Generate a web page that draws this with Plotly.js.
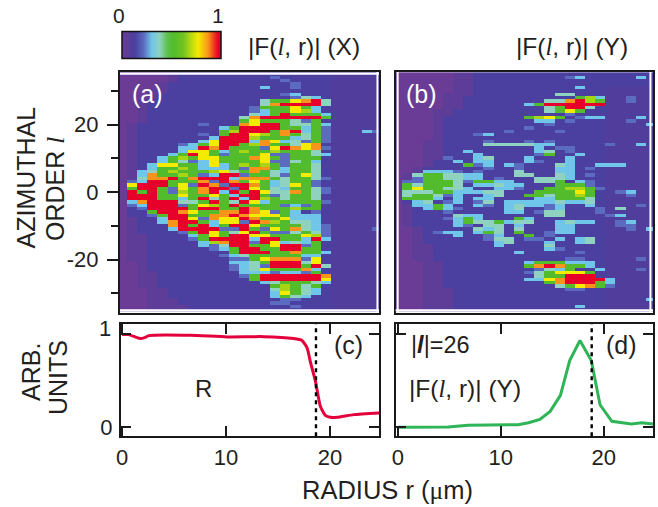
<!DOCTYPE html>
<html><head><meta charset="utf-8">
<script src="https://cdn.plot.ly/plotly-3.0.1.min.js"></script>
<style>html,body{margin:0;padding:0;background:#fff}#c{width:658px;height:507px}.hm image{filter:blur(0.5px)}</style>
</head><body><div id="c"></div>
<script>
// each row: azimuthal order l from +35 down to -35; each character: colour-class
const rowsX = [
"00000 .1111 11111 11111 1",
"00000 .1111 11111 21111 1",
"00000 .1111 11111 12111 1",
"0000. 11111 11111 11211 1",
"0000. 11111 11113 11211 1",
"000.. 11111 11111 11111 1",
"000.1 11111 11111 12311 1",
"000.1 11111 11111 11243 1",
"00.11 11111 11114 55789 4",
"00.11 11111 11114 89999 4",
"00.11 11111 11125 55753 1",
"00.11 11111 11123 55763 1",
"00.11 11111 11143 59555 3",
"00.11 11111 11489 99999 5",
"00.11 11111 11575 55425 1",
"0.111 11121 11879 95445 3",
"0.111 11111 35999 95535 2",
"0.111 11111 56999 58935 2...3 2",
"0.111 11121 59976 58545 2",
"0.111 11113 99965 55345 2",
"0.111 11137 99938 73425 2",
"0.111 12357 99568 55478 1",
"0.111 13398 95552 79878 2",
"0.111 13775 35655 65554 1",
"0.111 35975 25557 22554 3",
"0.113 56577 55587 52555 1",
"0.113 54237 55557 22453 1",
"0.137 75537 35656 52554 1",
"0.135 56533 35288 53554 1",
"0.345 65556 74585 43554 1",
"0.385 56523 99255 42574 1",
"0.488 95899 93888 54554 2",
"02399 55582 98575 34552 1",
"07999 57298 29985 34752 1",
"05995 27589 92975 43554 2",
"09595 26589 39597 44854 2",
"09995 57557 53995 24554 1",
"09995 53594 59396 54554 1",
"03899 94459 54973 55555 2",
"02399 92576 59555 52325 1",
"01299 99599 55985 55655 1",
"01159 98755 88987 25312 1",
"01125 99558 89877 75333 1",
"0.113 99728 77985 57333 1",
"0.113 89953 77298 65443 1",
"0.111 89593 59975 55543 2",
"0.111 39999 22952 75843 2....2",
"0.111 12597 54795 22454 2",
"0..11 11357 59977 55576 2",
"0..11 11259 99939 95539 3",
"0..11 11136 89929 73435 1",
"0..11 11132 49955 79925 1",
"0..11 11112 35995 59955 1",
"0..11 11111 15999 55855 3",
"0..11 11111 23455 55533 1",
"0..11 11111 12257 88827 1",
"00.11 11111 13345 99947 1",
"00.11 11111 12342 99959 4",
"00.11 11111 12347 55583 1",
"00..1 11111 11333 23325 1",
"00..1 11111 11259 99999 8",
"00..1 11111 11159 99999 7",
"00..1 11111 11113 45554 3",
"00..1 11111 11111 56545 1",
"000.. 11111 11111 46543 1",
"000.. 11111 11111 37543 1",
"000.. 11111 11111 35431 1",
"000.. .1111 11111 12211 1",
"000.. .1111 11111 22111 1",
"000.. ..111 11111 11211 1",
"000.. ..111 11111 11111 1"
];
const rowsY = [
"00000 0..11 11111 11111 11111 1",
"00000 0..11 11111 11231 11113 1",
"00000 0..11 11111 11111 11111 1",
"00000 0..11 11111 11111 11111 1",
"00000 0..11 11111 11131 1",
"00000 0..11 11111 11111 1",
"00000 ...11 11111 14411 1",
"00000 ..111 11111 11156 3..2.",
"00000 ..111 11111 44896 5..2.",
"00000 ..111 11135 99999 9",
"00000 ..111 11111 45994 1",
"0000. .1111 11111 45751 1",
"0000. .1111 11111 11211 1",
"0000. 11111 11156 75123 3...3",
"0000. 11111 11113 31211 1..2.",
"0000. 11111 11111 21111 1....3",
"0000. 11111 11121 11111 1",
"0000. 11111 12111 12111 1",
"0000. 11123 11111 11111 1",
"0000. 11111 11111 11111 1",
"000.. 11112 11121 21111 1",
"000.. 11114 44443 31111 12..3",
"000.. 11111 11113 12211 1",
"000.. 11311 11113 41211 1",
"000.. 11131 11112 51131 1",
"000.. 21134 11131 11311 1",
"000.1 13133 11132 11311 1",
"000.1 11523 13211 14311 333..",
"00.11 11112 11211 13312 1",
"00.33 32121 11411 13311 1",
"0.455 44331 11441 14312 1",
"0.255 44331 21114 44311 1",
"02255 54255 33114 45132 1",
"05455 54133 43311 15552 1",
"05755 44311 33211 55665 2",
"04445 53334 41115 55575 1.23.",
"04554 23113 41155 45565 1..2.",
"05553 13133 11113 35554 1",
"01341 23124 13333 34334 1",
"0.335 31132 13433 23113 1...2",
"0.135 32111 13411 23111 2.4..",
"0.111 21111 13312 44111 2",
"0.111 14331 11111 44111 .23..",
"0.111 23531 11531 11111 1",
"0.111 13544 53441 13433 1.23.",
"0.111 13214 41311 13311 1.22.",
"00.11 11143 41411 13311 1..2. 3",
"00.12 33135 41511 23311 1",
"00.11 13112 31151 21111 1",
"00.11 11112 44122 13134 1",
"00.11 11111 34111 31134 1",
"00..1 11111 31111 41111 1",
"00..1 11111 11111 32111 1",
"00..1 11111 11311 11121 1",
"00..1 11111 11111 11111 1",
"00..1 11111 11111 11221 1...2",
"000.. 11111 11135 55333 1",
"000.. 11111 11158 98553 1",
"000.. 11111 11112 43511 3...2",
"000.. 11111 11124 57775 1",
"000.. 11111 11114 55999 1",
"000.. 11111 11133 78999 93",
"000.. 11111 11111 58999 53",
"000.. 11111 11111 14578 52",
"000.. .1111 11111 11221 1",
"000.. .1111 11111 11111 1",
"000.. .1111 11111 11111 1",
"000.. .1111 11111 11111 1....3",
"000.. .1111 11111 11111 1",
"000.. .1111 11111 11131 1",
"000.. .1111 11111 11111 1"
];
const classValues = {"0":0,".":0.055,",":0.1,"1":0.13,"2":0.22,"3":0.3,"4":0.38,"5":0.52,"6":0.68,"7":0.77,"8":0.87,"9":0.97};
const lOrders = rowsX.map((_, i) => 35 - i);
const radiusBins = Array.from({length: 26}, (_, k) => +(0.15 + 0.968 * k).toFixed(3));

const rReflect = [0,0.64,1.76,2.24,2.56,6.57,10.1,13.6,16.5,17.3,17.8,18.1,18.6,19.07,19.55,20.03,20.67,22.28,24.74];
const vReflect = [0.993,0.993,0.95,0.964,0.982,0.986,0.968,0.971,0.95,0.93,0.85,0.706,0.491,0.222,0.125,0.104,0.104,0.133,0.151];
const rAmp = [0,4.9,6.8,10,11.7,12.7,13.8,14.8,15.8,16.7,17.7,18.8,19.65,20.8,22.7,23.7,24.8];
const vAmp = [-0.004,0,0.018,0.018,0.025,0.046,0.082,0.168,0.34,0.714,0.93,0.714,0.239,0.061,0.032,0.046,0.032];

const ink = "#231f20";
const colorscale = [
 [0,"#6a3c96"],[0.055,"#5e3d99"],[0.1,"#513e9c"],[0.13,"#4b3f9f"],[0.22,"#5b6cc0"],[0.3,"#70c6e8"],[0.38,"#8fd2c0"],
 [0.46,"#5cc04a"],[0.52,"#52bc2c"],[0.62,"#70c422"],[0.68,"#a8d416"],[0.77,"#f4ec00"],[0.87,"#f8941c"],[0.93,"#ee3a1c"],[0.97,"#e6002a"],[1,"#e6002a"]];
// "." beyond the left fade is the mixed blue background on the right of the panel
const toZ = rows => rows.map(s => s.replace(/ /g,"").padEnd(26,",").split("").map((c,k) => classValues[c === "." && k > 10 ? "," : c]));

const hm = (rows, xa, ya, extra) => Object.assign({type:"heatmap", z:toZ(rows), x:radiusBins, y:lOrders, xaxis:xa, yaxis:ya,
  colorscale, zmin:0, zmax:1, zsmooth:false, showscale:false, hoverinfo:"skip"}, extra||{});

const traces = [
 hm(rowsX,"x","y",{showscale:true, colorbar:{orientation:"h", x:122/658, xanchor:"left", y:(507-59.5)/507, yanchor:"bottom",
   lenmode:"pixels", len:99, thicknessmode:"pixels", thickness:27, xpad:0, ypad:0, outlinecolor:"#111", outlinewidth:1.5,
   showticklabels:false, ticks:""}}),
 hm(rowsY,"x2","y2"),
 {type:"scatter", mode:"lines", x:rReflect, y:vReflect, xaxis:"x3", yaxis:"y3", line:{color:"#e4003a", width:3, shape:"spline", smoothing:0.5}, hoverinfo:"skip"},
 {type:"scatter", mode:"lines", x:rAmp, y:vAmp, xaxis:"x4", yaxis:"y4", line:{color:"#2fb457", width:3}, hoverinfo:"skip"}
];

const W = 658, H = 507;
const dx = (a,b) => [a/W, b/W];
const dy = (top,bot) => [1-bot/H, 1-top/H];
const frame = {showline:true, mirror:true, linecolor:"#1a1a1a", linewidth:2, showgrid:false, zeroline:false, fixedrange:true};
const font = {family:"Liberation Sans, Arial, sans-serif", color:ink};
const tf = {family:font.family, color:ink, size:22};
const lTick = {tickmode:"array", tickvals:[-20,0,20], ticktext:["-20","0","20"], ticks:"outside", ticklen:11, tickwidth:2, tickcolor:"#1a1a1a", tickfont:tf, ticklabelstandoff:4,
  minor:{tickmode:"array", tickvals:[-30,-10,10,30], ticks:"outside", ticklen:7, tickwidth:2, tickcolor:"#1a1a1a", showgrid:false}};
const rTick = {tickmode:"array", tickvals:[0,10,20], ticktext:["0","10","20"], ticks:"inside", ticklen:10, tickwidth:2, tickcolor:"#1a1a1a", tickfont:tf, ticklabelstandoff:0, mirror:"allticks"};
const vTick = {tickmode:"array", tickvals:[0,1], ticks:"inside", ticklen:10, tickwidth:2, tickcolor:"#1a1a1a", tickfont:tf, mirror:"allticks"};
const ell = '<span style="font-family:Liberation Serif"><i>l</i></span>';
const F = l => `|F(${ell}, r)| (${l})`;
const ann0 = (text,x,y,size,o) => Object.assign({text, x:x/W, y:1-y/H, xref:"paper", yref:"paper", showarrow:false,
   xanchor:"center", yanchor:"middle", font:{family:font.family, color:ink, size}}, o||{});
const whiteLine = (xr,yr,x0,y0,x1,y1) => ({type:"line", xref:xr+" domain", yref:yr+" domain", x0, y0, x1, y1, line:{color:"#fff", width:2}, layer:"above"});
const dashed = (xr,yr,x) => ({type:"line", xref:xr, yref:yr+" domain", x0:x, x1:x, y0:0, y1:1, line:{color:"#000", width:2.4, dash:"4px,4px"}, layer:"above"});

const layout = {
 width:W, height:H, margin:{l:0,r:0,t:0,b:0}, paper_bgcolor:"#fff", plot_bgcolor:"#fff", showlegend:false, font,
 xaxis:Object.assign({},frame,{domain:dx(120,379), range:[0,24.5], anchor:"y", showticklabels:false, ticks:""}),
 yaxis:Object.assign({},frame,lTick,{domain:dy(72,312.5), range:[-35.7,35.6], anchor:"x"}),
 xaxis2:Object.assign({},frame,{domain:dx(395.6,653), range:[0,24.5], anchor:"y2", showticklabels:false, ticks:""}),
 yaxis2:Object.assign({},frame,{domain:dy(72,312.5), range:[-35.7,35.6], anchor:"x2", showticklabels:false, ticks:""}),
 xaxis3:Object.assign({},frame,rTick,{domain:dx(121,379.3), range:[-0.1,24.74], anchor:"y3"}),
 yaxis3:Object.assign({},frame,vTick,{domain:dy(324,436.3), range:[-0.1,1.107], anchor:"x3", ticktext:["0",""], ticklabelstandoff:2}),
 xaxis4:Object.assign({},frame,rTick,{domain:dx(396.3,653.3), range:[-0.16,24.83], anchor:"y4"}),
 yaxis4:Object.assign({},frame,vTick,{domain:dy(324,436.3), range:[-0.1,1.107], anchor:"x4", showticklabels:false}),
 shapes:[
  whiteLine("x","y",0,0.993,1,0.993), whiteLine("x","y",0.994,0,0.994,1), whiteLine("x","y",0,0.009,1,0.009),
  whiteLine("x2","y2",0.008,0,0.008,1), whiteLine("x2","y2",0.99,0,0.99,1), whiteLine("x2","y2",0,0.009,1,0.009),
  dashed("x3","y3",18.65), dashed("x4","y4",18.84)
 ],
 annotations:[
  ann0("0",119,15.7,21), ann0("1",218,15.7,21),
  ann0(F("X"),304,46.5,24.5), ann0(F("Y"),572,46.5,24.5),
  ann0("(a)",147.5,94,25,{font:{family:font.family,color:"#fff",size:25}}),
  ann0("(b)",421,94,25,{font:{family:font.family,color:"#fff",size:25}}),
  ann0("AZIMUTHAL",25,177.5,25,{textangle:-90}),
  ann0("ORDER "+ell,55,189,25,{textangle:-90}),
  ann0("ARB.",31,372,25,{textangle:-90}),
  ann0("UNITS",58,378,25,{textangle:-90}),
  ann0("1",105,328,22),
  ann0("R",203,388.7,24),
  ann0("(c)",348,345,25), ann0("(d)",621.7,345,25),
  ann0("|<b><i>l</i></b>|=26",440,345,23.5),
  ann0(F("Y"),465,388,24.5),
  ann0('RADIUS r (<span style="font-family:Liberation Serif">μ</span>m)',387,490,25.5)
 ]
};
Plotly.newPlot("c",traces,layout,{staticPlot:true,displayModeBar:false});
</script></body></html>
